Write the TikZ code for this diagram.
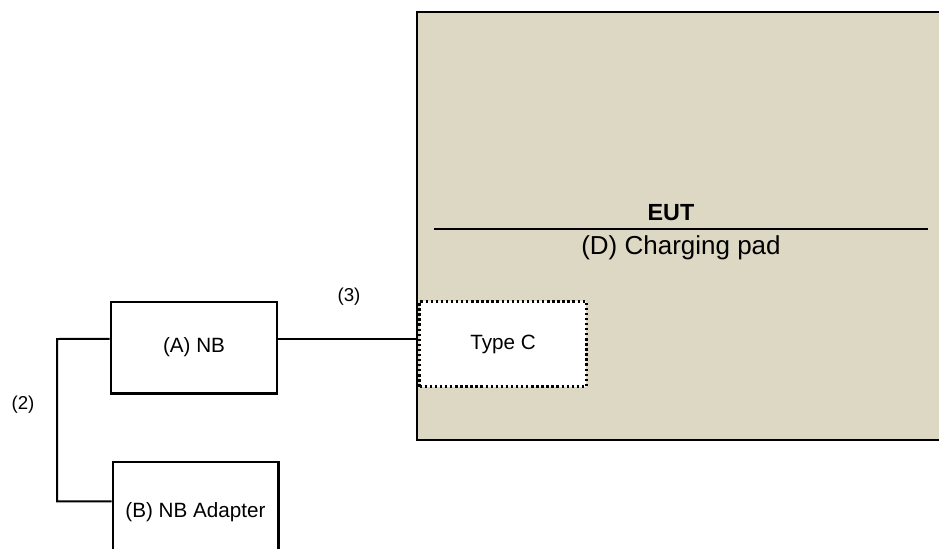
\documentclass[tikz,border=0pt]{standalone}
\usepackage{fontspec}
\setmainfont{Liberation Sans}
\definecolor{eutfill}{RGB}{221,216,196}
\begin{document}
\begin{tikzpicture}[x=0.75pt,y=-0.75pt,
  blk/.style={draw=black,line width=2pt,fill=white,inner sep=0pt,font=\fontsize{15.5}{18}\selectfont},
  wire/.style={line width=1.5pt},
  lbl/.style={font=\fontsize{14}{16}\selectfont,inner sep=0pt}]
\useasboundingbox (0,0) rectangle (939,549);
\begin{scope}
\clip (0,0) rectangle (939,549);
% EUT body
\fill[eutfill] (417,12) rectangle (945,440);
\draw[line width=2.2pt] (945,12) -- (417,12) -- (417,440) -- (945,440);
\node[font=\bfseries\fontsize{17.5}{20}\selectfont,inner sep=0pt] (eut) at (671,213) {EUT};
\draw[line width=1.5pt] (434,229) -- (928,229);
\node[font=\fontsize{19.5}{22}\selectfont,inner sep=0pt] (pad) at (681,248) {(D) Charging pad};
% Type C
\node[draw=black,dotted,line width=1.8pt,fill=white,minimum width=125pt,minimum height=64pt,inner sep=0pt,font=\fontsize{15.5}{18}\selectfont] (typec) at (503,344) {Type C};
% NB boxes
\node[blk,minimum width=124.5pt,minimum height=68.5pt] (nb) at (194,347.5) {(A) NB};
\node[blk,minimum width=124pt,minimum height=75pt] (adp) at (195.5,512) {(B) NB Adapter};
\coordinate (adpin) at ([yshift=8pt]adp.west);
\coordinate (nbout) at ([yshift=6.4pt]nb.east);
\coordinate (nbin) at ([yshift=6.4pt]nb.west);
\draw[wire] (nbout) -- (nbout -| typec.west);
\draw[wire] (nbin) -- (57,339) |- (adpin);
\node[lbl] (l3) at (349,297) {(3)};
\node[lbl] (l2) at (23,405) {(2)};
\end{scope}
\end{tikzpicture}
\end{document}
